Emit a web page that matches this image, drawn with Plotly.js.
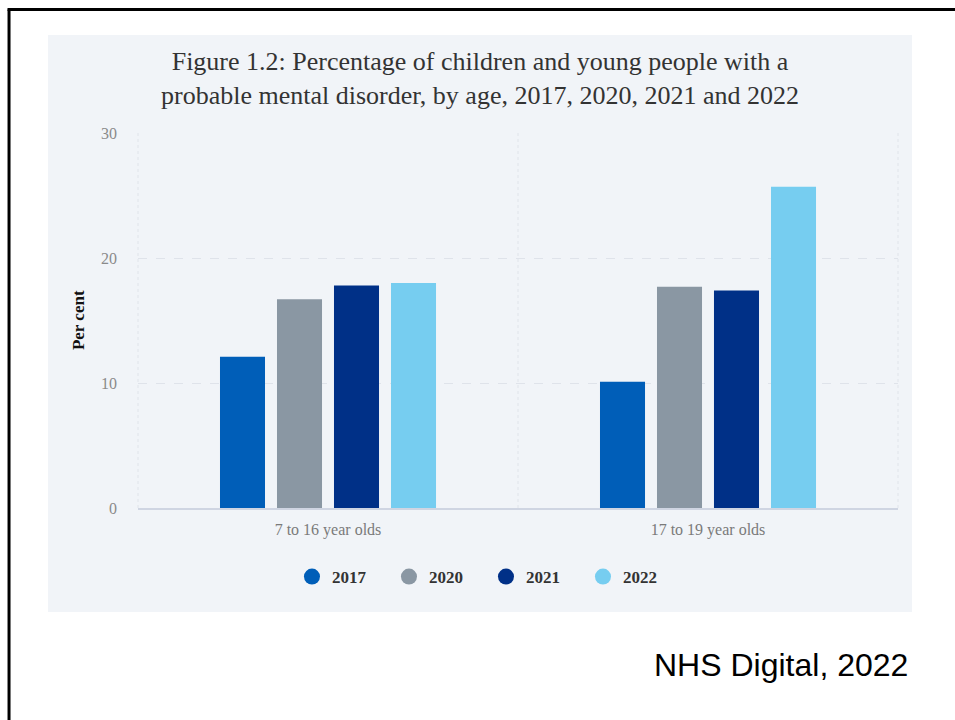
<!DOCTYPE html>
<html>
<head>
<meta charset="utf-8">
<script src="https://cdn.plot.ly/plotly-3.0.1.min.js"></script>
<style>html,body{margin:0;padding:0;background:#fff;}#chart{width:955px;height:720px;}</style>
</head>
<body>
<div id="chart"></div>
<script>
const categories = ["7 to 16 year olds", "17 to 19 year olds"];
const years = ["2017", "2020", "2021", "2022"];
const values2017 = [12.1, 10.1];
const values2020 = [16.7, 17.7];
const values2021 = [17.8, 17.4];
const values2022 = [18.0, 25.7];
const colors = ["#005eb8", "#8a97a3", "#003087", "#76cdf0"];
const yTicks = [0, 10, 20, 30];

const series = [values2017, values2020, values2021, values2022];
const serif = "Liberation Serif, Times New Roman, serif";

const traces = [];
series.forEach((vals, i) => {
  traces.push({
    type: "bar", x: categories, y: vals, name: years[i],
    marker: {color: colors[i]}, showlegend: false, hoverinfo: "y"
  });
});
years.forEach((yr, i) => {
  traces.push({
    type: "scatter", mode: "markers", x: [null], y: [null], name: yr,
    marker: {color: colors[i], size: 17, symbol: "circle"}, showlegend: true
  });
});

const layout = {
  width: 955, height: 720,
  margin: {l: 138, r: 57, t: 133, b: 212},
  paper_bgcolor: "#ffffff",
  plot_bgcolor: "rgba(0,0,0,0)",
  font: {family: serif, color: "#333"},
  title: {
    text: "Figure 1.2: Percentage of children and young people with a<br>probable mental disorder, by age, 2017, 2020, 2021 and 2022",
    font: {family: serif, size: 26, color: "#333"},
    x: 0.5026, xanchor: "center", xref: "container",
    y: 1 - 70/720, yanchor: "middle", yref: "container"
  },
  bargap: 0.4, bargroupgap: 0.21, barmode: "group",
  xaxis: {
    type: "category", showgrid: false, zeroline: false,
    showline: true, linecolor: "#cfd5e2", linewidth: 2,
    ticks: "", ticklabelstandoff: 6,
    tickfont: {family: serif, size: 16, color: "#7a7a7a"}
  },
  yaxis: {
    range: [0, 30], tickvals: yTicks, ticktext: yTicks.map(String),
    showgrid: true, gridcolor: "#dfe3ea", griddash: "dash", gridwidth: 1,
    zeroline: false, showline: false, ticks: "", ticklabelstandoff: 20,
    tickfont: {family: serif, size: 16, color: "#8a8a8a"}
  },
  legend: {
    orientation: "h", x: 0.2026, xanchor: "left", y: -0.184, yanchor: "middle",
    font: {family: serif, size: 17, color: "#333", weight: "bold"},
    entrywidth: 52, entrywidthmode: "pixels", bgcolor: "rgba(0,0,0,0)"
  },
  shapes: [
    {type: "rect", xref: "paper", yref: "paper", x0: -0.1184, x1: 1.0184, y0: -0.2773, y1: 1.2613,
     fillcolor: "#f1f4f8", line: {width: 0}, layer: "below"},
    {type: "line", xref: "paper", yref: "paper", x0: -0.1697, x1: -0.1697, y0: -0.6, y1: 1.3293,
     line: {color: "#000", width: 3}, layer: "above"},
    {type: "line", xref: "paper", yref: "paper", x0: -0.1717, x1: 1.2, y0: 1.3293, y1: 1.3293,
     line: {color: "#000", width: 3}, layer: "above"},
    {type: "line", xref: "paper", yref: "paper", x0: 0, x1: 0, y0: 0, y1: 1,
     line: {color: "#e0e4ea", width: 1, dash: "dot"}, layer: "below"},
    {type: "line", xref: "paper", yref: "paper", x0: 0.5, x1: 0.5, y0: 0, y1: 1,
     line: {color: "#e0e4ea", width: 1, dash: "dot"}, layer: "below"},
    {type: "line", xref: "paper", yref: "paper", x0: 1, x1: 1, y0: 0, y1: 1,
     line: {color: "#e0e4ea", width: 1, dash: "dot"}, layer: "below"}
  ],
  annotations: [
    {text: "<b>Per cent</b>", xref: "paper", yref: "paper", x: -0.079, y: 0.501,
     xanchor: "center", yanchor: "middle", textangle: -90, showarrow: false,
     font: {family: serif, size: 17, color: "#111"}},
    {text: "NHS Digital, 2022", xref: "paper", yref: "paper", x: 1.0158, y: -0.4187,
     xanchor: "right", yanchor: "middle", showarrow: false,
     font: {family: "Liberation Sans, Arial, sans-serif", size: 32, color: "#000"}}
  ]
};

Plotly.newPlot("chart", traces, layout, {displayModeBar: false, staticPlot: true});
</script>
</body>
</html>
